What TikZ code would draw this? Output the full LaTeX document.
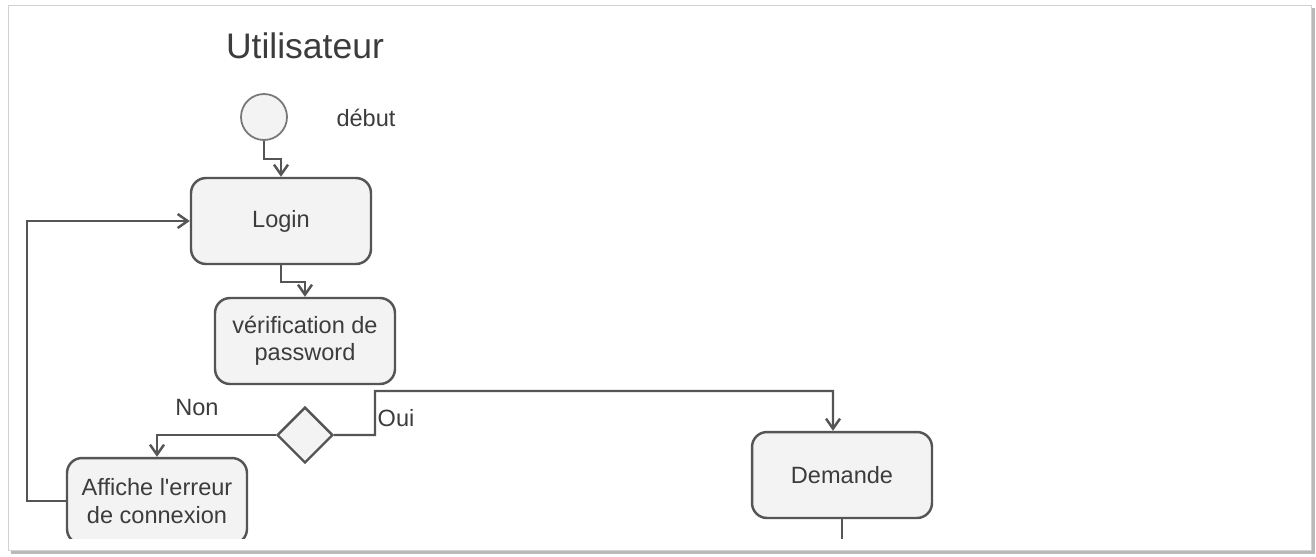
\documentclass[tikz,border=0pt]{standalone}
\usepackage{fontspec}
\setmainfont{Liberation Sans}
\usetikzlibrary{arrows.meta,shapes.geometric}
\definecolor{ligne}{HTML}{555555}
\definecolor{fond}{HTML}{F3F3F3}
\definecolor{texte}{HTML}{3C3C3C}
\tikzset{
  act/.style={draw=ligne,fill=fond,line width=1.4pt,rounded corners=0.3cm,
    minimum width=3.6cm,minimum height=1.72cm,align=center,text=texte,
    font=\fontsize{13.4}{15.5}\selectfont},
  debut/.style={circle,draw=ligne!80,fill=fond,line width=1pt,minimum size=0.92cm},
  choix/.style={diamond,draw=ligne,fill=fond,line width=1.4pt,
    minimum width=1.12cm,minimum height=1.12cm,inner sep=0pt},
  lbl/.style={text=texte,font=\fontsize{13.4}{15.5}\selectfont},
  fl/.style={draw=ligne,line width=1.4pt,-{Straight Barb[length=0.2cm,width=0.28cm]}}
}
\begin{document}
\begin{tikzpicture}[x=0.02cm,y=-0.02cm]
\useasboundingbox (0,0) rectangle (1316,556);
% cadre
\fill[gray!55] (11,8) rectangle (1315,554);
\draw[gray!35,fill=white] (8,5) rectangle (1311,550);
\node[lbl,font=\fontsize{20.2}{24}\selectfont] (titre) at (305,46) {Utilisateur};

\begin{scope}
\clip (0,0) rectangle (1316,538);
\node[debut] (start) at (264,117) {};
\node[lbl] (tdebut) at (366,118) {début};
\node[act] (login) at (281,221) {Login};
\node[act] (verif) at (305,341) {vérification de\\password};
\node[choix] (dec) at (305,435) {};
\node[act] (erreur) at (157,501) {Affiche l\textquotesingle erreur\\de connexion};
\node[act] (demande) at (842,475) {Demande};
\node[lbl] (non) at (197,408) {Non};
\node[lbl] (oui) at (396,418) {Oui};

\draw[fl] (start.south) -- (264,159) -| (login.north);
\draw[fl] (login.south) -- (281,282) -| (verif.north);
\draw[fl] (dec.west) -| (erreur.north);
\draw[fl] (dec.east) -- (375,435) |- (833,391) -- ([xshift=-0.18cm]demande.north);
\draw[fl] (erreur.west) -- (27,501) |- (login.west);
\draw[draw=ligne,line width=1.4pt] (demande.south) -- ++(0,22);
\end{scope}
\end{tikzpicture}
\end{document}
